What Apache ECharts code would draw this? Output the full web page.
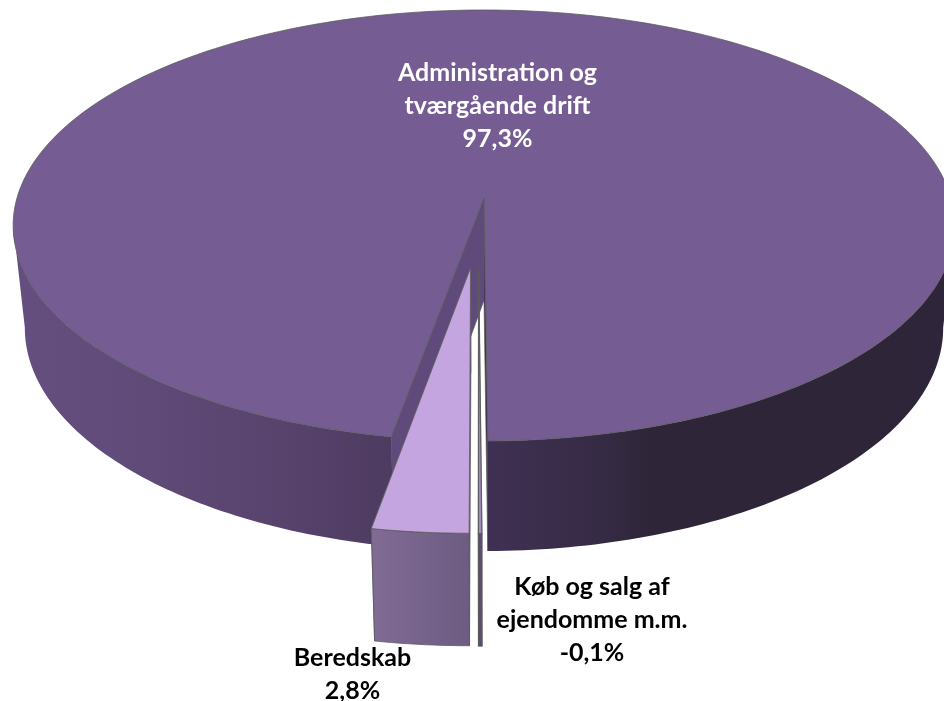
<!DOCTYPE html>
<html><head><meta charset="utf-8">
<style>html,body{margin:0;padding:0;background:#fff}#c{width:944px;height:701px}</style>
<script src="https://cdn.jsdelivr.net/npm/echarts@6/dist/echarts.min.js"></script>
</head><body><div id="c"></div>
<script>
// DATA
const categories = ['Administration og\ntværgående drift', 'Køb og salg af\nejendomme m.m.', 'Beredskab'];
const values = [97.3, -0.1, 2.8];
const valueLabels = ['97,3%', '-0,1%', '2,8%'];

// LAYOUT / STYLE
const startAngle = 190;               // clockwise from the far side of the disc
const explode = [0, 0.317, 0.317];
const explodeDir = [0, 182, 185];
const P = {cx: 484, cy: 198, A: 467, B: 212, C: 104.8, k: 0.1276, m: 0.025};
const topFill = ['#755c93', '#a38ac0', '#c4a5e0'];
const cutFill = [['#604a7c', '#3a2d4c'], ['#5a4d70', '#5a4d70'], ['#6d5b82', '#6d5b82']];
const wallStops = [
  [[13,'#654f80'],[150,'#5f4a78'],[250,'#5a4570'],[390,'#4e3b61'],[490,'#3f3053'],[600,'#362b45'],[650,'#2f2539'],[944,'#2e253a']],
  [[478,'#5a4d70'],[484,'#5a4d70']],
  [[371,'#806b95'],[471,'#6d5b82']]
];
const labelPos = [[497.5, 105.5], [592, 620], [352.5, 674]];
const labelFill = ['#ffffff', '#000000', '#000000'];
const edge = 'rgba(90,90,90,0.85)';
const frontFrom = 97, frontTo = 263;  // part of the rim whose wall faces the viewer

const rad = d => d * Math.PI / 180;
function project(u, v, z) {
  const w = 1 - P.k * v + P.m * z;
  return [P.cx + P.A * u / w, P.cy + (P.B * v + P.C * z) / w];
}
function disc(phi, r, i, z) {
  const d = rad(explodeDir[i]);
  const ox = explode[i] * Math.sin(d), oy = -explode[i] * Math.cos(d);
  return project(ox + r * Math.sin(rad(phi)), oy - r * Math.cos(rad(phi)), z);
}
function wallGradient(i) {
  const s = wallStops[i], x0 = s[0][0], x1 = s[s.length - 1][0];
  return {type: 'linear', global: true, x: x0, y: 0, x2: x1, y2: 0,
    colorStops: s.map(t => ({offset: (t[0] - x0) / (x1 - x0), color: t[1]}))};
}
const total = values.reduce((s, v) => s + Math.abs(v), 0);

function renderItem(params, api) {
  const i = api.value(0), val = api.value(1);
  let a0 = startAngle;
  for (let j = 0; j < i; j++) a0 += Math.abs(values[j]) / total * 360;
  const a1 = a0 + val / total * 360;
  const ch = [];
  const lw = i === 1 ? 1.3 : 0.9;
  // cut faces
  const face = (phi, fill) => ({type: 'polygon', shape: {points: [disc(phi,0,i,0), disc(phi,1,i,0), disc(phi,1,i,1), disc(phi,0,i,1)]},
    style: {fill: fill, stroke: edge, lineWidth: 0.8}});
  ch.push(face(a0, cutFill[i][0]));
  ch.push(face(a1, cutFill[i][1]));
  // outer wall: the rim pieces that face the viewer
  [0, 360].forEach(shift => {
    const s = Math.max(a0, frontFrom + shift), e = Math.min(a1, frontTo + shift);
    if (e <= s) return;
    const n = Math.max(2, Math.ceil((e - s) / 1));
    const up = [], low = [];
    for (let j = 0; j <= n; j++) {
      const p = s + (e - s) * j / n;
      up.push(disc(p, 1, i, 0));
      low.unshift(disc(p, 1, i, 1));
    }
    ch.push({type: 'polygon', shape: {points: up.concat(low)},
      style: {fill: wallGradient(i), stroke: i === 0 ? 'none' : edge, lineWidth: lw}});
  });
  // top face
  const top = [disc(a0,0,i,0)];
  const m = Math.max(2, Math.ceil((a1 - a0) / 1));
  for (let j = 0; j <= m; j++) top.push(disc(a0 + (a1 - a0) * j / m, 1, i, 0));
  ch.push({type: 'polygon', shape: {points: top}, style: {fill: topFill[i], stroke: edge, lineWidth: lw}});
  // label
  ch.push({type: 'text', x: labelPos[i][0], y: labelPos[i][1], z2: 50, style: {
    text: categories[i] + '\n' + valueLabels[i], fill: labelFill[i], align: 'center', verticalAlign: 'middle',
    font: 'bold 25px Lato', lineHeight: 33}});
  return {type: 'group', children: ch};
}

const chart = echarts.init(document.getElementById('c'), null, {renderer: 'canvas'});
chart.setOption({
  animation: false,
  backgroundColor: '#ffffff',
  series: [{
    type: 'custom', coordinateSystem: 'none', renderItem: renderItem, silent: true,
    data: categories.map((c, i) => ({name: c, value: [i, Math.abs(values[i])]}))
  }]
});
</script></body></html>
